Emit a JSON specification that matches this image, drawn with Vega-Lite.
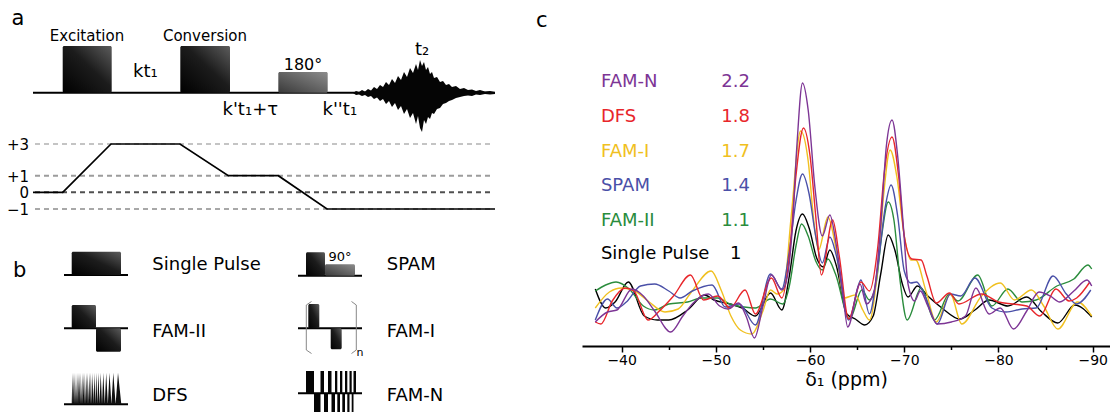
{
"$schema": "https://vega.github.io/schema/vega-lite/v6.json",
"padding": 0,
"spacing": 0,
"bounds": "flush",
"config": {"view": {"stroke": null}, "font": "DejaVu Sans"},
"resolve": {"scale": {"x": "independent", "y": "independent", "color": "independent"}},
"hconcat": [
{
"width": 582, "height": 412,
"encoding": {
  "x": {"field": "x", "type": "quantitative", "scale": {"domain": [0, 582], "nice": false, "zero": false}, "axis": null},
  "y": {"field": "y", "type": "quantitative", "scale": {"domain": [0, 412], "reverse": true, "nice": false, "zero": false}, "axis": null}
},
"layer": [
  {"data": {"values": [{"x":35,"x2":493,"y":144,"lv":"p3"},{"x":35,"x2":493,"y":175.7,"lv":"p1"},{"x":35,"x2":493,"y":192.3,"lv":"z"},{"x":35,"x2":493,"y":209,"lv":"m1"}]},
   "mark": {"type": "rule", "strokeDash": [5, 4], "strokeWidth": 2},
   "encoding": {"x2": {"field": "x2"}, "color": {"field": "lv", "type": "nominal", "scale": {"domain": ["p3","p1","z","m1"], "range": ["#c4c4c4","#9c9c9c","#505050","#a8a8a8"]}, "legend": null}}},
  {"data": {"values": [{"x":33,"y":192.3,"o":1},{"x":62.7,"y":192.3,"o":2},{"x":111,"y":144,"o":3},{"x":180,"y":144,"o":4},{"x":228.3,"y":175.7,"o":5},{"x":278.3,"y":175.7,"o":6},{"x":327,"y":209,"o":7},{"x":495,"y":209,"o":8}]},
   "mark": {"type": "line", "color": "black", "strokeWidth": 1.7},
   "encoding": {"order": {"field": "o", "type": "quantitative"}}},
  {"data": {"values": [{"x":33,"x2":495,"y":92.7},{"x":64,"x2":128,"y":275},{"x":298,"x2":362,"y":275.7},{"x":64,"x2":128,"y":328.3},{"x":298,"x2":362,"y":328.3},{"x":64,"x2":128,"y":404.3},{"x":298,"x2":362,"y":393.3}]},
   "mark": {"type": "rule", "color": "black", "strokeWidth": 2},
   "encoding": {"x2": {"field": "x2"}}},
  {"data": {"values": [{"x":62.7,"x2":111.7,"y":46,"y2":92.7},{"x":180.3,"x2":230,"y":46,"y2":92.7},{"x":71.7,"x2":121,"y":251.7,"y2":275},{"x":306,"x2":325,"y":252.3,"y2":275.7},{"x":71.7,"x2":96,"y":305,"y2":328.3},{"x":96,"x2":121,"y":328.3,"y2":351.7},{"x":308.3,"x2":319.3,"y":304,"y2":328.3},{"x":330.7,"x2":341.7,"y":328.3,"y2":349.3}]},
   "mark": {"type": "rect", "cornerRadius": 1.5, "color": {"gradient": "linear", "x1": 0, "y1": 1, "x2": 1, "y2": 0, "stops": [{"offset": 0, "color": "#000000"}, {"offset": 0.55, "color": "#1c1c1c"}, {"offset": 1, "color": "#5c5c5c"}]}},
   "encoding": {"x2": {"field": "x2"}, "y2": {"field": "y2"}}},
  {"data": {"values": [{"x":278.3,"x2":327.7,"y":72,"y2":92.7},{"x":325,"x2":355,"y":264.3,"y2":275.7}]},
   "mark": {"type": "rect", "cornerRadius": 1.5, "color": {"gradient": "linear", "x1": 0, "y1": 1, "x2": 1, "y2": 0, "stops": [{"offset": 0, "color": "#3a3a3a"}, {"offset": 1, "color": "#8c8c8c"}]}},
   "encoding": {"x2": {"field": "x2"}, "y2": {"field": "y2"}}},
  {"data": {"values": [{"x":306,"x2":314,"y":371,"y2":393.3},{"x":320.5,"x2":324,"y":371,"y2":393.3},{"x":328,"x2":331.5,"y":371,"y2":393.3},{"x":335,"x2":337.3,"y":371,"y2":393.3},{"x":340,"x2":342.3,"y":371,"y2":393.3},{"x":345,"x2":347.3,"y":371,"y2":393.3},{"x":349.5,"x2":351.7,"y":371,"y2":393.3},{"x":353.5,"x2":356,"y":371,"y2":393.3},{"x":314,"x2":320.5,"y":393.3,"y2":412},{"x":324,"x2":328,"y":393.3,"y2":412},{"x":331.5,"x2":335,"y":393.3,"y2":412},{"x":337.3,"x2":340,"y":393.3,"y2":412},{"x":342.3,"x2":345,"y":393.3,"y2":412},{"x":347.3,"x2":349.5,"y":393.3,"y2":412},{"x":351.7,"x2":353.5,"y":393.3,"y2":412}]},
   "mark": {"type": "rect", "color": "#050505"},
   "encoding": {"x2": {"field": "x2"}, "y2": {"field": "y2"}}},
  {"data": {"values": [{"x":353,"y":93,"y2":93},{"x":356,"y":91,"y2":95},{"x":359,"y":92,"y2":94.5},{"x":362,"y":90,"y2":96},{"x":365,"y":91.5,"y2":95},{"x":368,"y":89,"y2":97},{"x":371,"y":90.5,"y2":96},{"x":374,"y":87,"y2":99},{"x":377,"y":89,"y2":97.5},{"x":380,"y":85,"y2":101},{"x":383,"y":87,"y2":99},{"x":386,"y":82,"y2":104},{"x":389,"y":85,"y2":101},{"x":392,"y":79,"y2":107},{"x":395,"y":83,"y2":103},{"x":398,"y":76,"y2":110},{"x":401,"y":80,"y2":106},{"x":404,"y":72,"y2":114},{"x":407,"y":77,"y2":109},{"x":410,"y":68,"y2":118},{"x":413,"y":73,"y2":113},{"x":416,"y":64,"y2":124},{"x":418,"y":70,"y2":116},{"x":420,"y":60,"y2":128},{"x":422,"y":66,"y2":132},{"x":424,"y":62,"y2":120},{"x":426,"y":70,"y2":124},{"x":428,"y":67,"y2":117},{"x":430,"y":74,"y2":119},{"x":432,"y":72,"y2":113},{"x":434,"y":78,"y2":114},{"x":437,"y":77,"y2":109},{"x":440,"y":82,"y2":108},{"x":443,"y":81,"y2":104},{"x":446,"y":85,"y2":103},{"x":449,"y":84,"y2":101},{"x":452,"y":87,"y2":100},{"x":456,"y":86,"y2":98},{"x":460,"y":89,"y2":97},{"x":464,"y":88,"y2":96},{"x":468,"y":90,"y2":95.5},{"x":472,"y":89.5,"y2":96},{"x":476,"y":91,"y2":94.5},{"x":480,"y":90,"y2":95},{"x":485,"y":91.5,"y2":94},{"x":490,"y":91,"y2":94.5},{"x":495,"y":92,"y2":94}]},
   "mark": {"type": "area", "color": "#050505", "interpolate": "linear"},
   "encoding": {"y2": {"field": "y2"}}},
  {"data": {"values": [{"x":71.7,"y":404.3},{"x":72.4,"y":372.7},{"x":73,"y":404.3},{"x":73.6,"y":372.7},{"x":74.2,"y":404.3},{"x":74.8,"y":372.7},{"x":75.4,"y":404.3},{"x":76,"y":372.7},{"x":76.6,"y":404.3},{"x":77.2,"y":372.7},{"x":77.8,"y":404.3},{"x":78.4,"y":372.7},{"x":79,"y":404.3},{"x":79.6,"y":372.7},{"x":80.25,"y":404.3},{"x":80.9,"y":372.7},{"x":81.55,"y":404.3},{"x":82.2,"y":372.7},{"x":82.85,"y":404.3},{"x":83.5,"y":372.7},{"x":84.2,"y":404.3},{"x":84.9,"y":372.7},{"x":85.6,"y":404.3},{"x":86.3,"y":372.7},{"x":87.05,"y":404.3},{"x":87.8,"y":372.7},{"x":88.55,"y":404.3},{"x":89.3,"y":372.7},{"x":90.1,"y":404.3},{"x":90.9,"y":372.7},{"x":91.75,"y":404.3},{"x":92.6,"y":372.7},{"x":93.5,"y":404.3},{"x":94.4,"y":372.7},{"x":95.35,"y":404.3},{"x":96.3,"y":372.7},{"x":97.35,"y":404.3},{"x":98.4,"y":372.7},{"x":99.55,"y":404.3},{"x":100.7,"y":372.7},{"x":102,"y":404.3},{"x":103.3,"y":372.7},{"x":104.75,"y":404.3},{"x":106.2,"y":372.7},{"x":107.85,"y":404.3},{"x":109.5,"y":372.7},{"x":111.4,"y":404.3},{"x":113.3,"y":372.7},{"x":115.6,"y":404.3},{"x":118,"y":372.7},{"x":121.3,"y":404.3}]},
   "mark": {"type": "area", "color": "#111111", "interpolate": "linear"},
   "encoding": {"y2": {"datum": 404.3}}},
  {"data": {"values": [{"x":311.5,"y":301.5,"b":"l","o":1},{"x":306.3,"y":305,"b":"l","o":2},{"x":306.3,"y":350,"b":"l","o":3},{"x":311.5,"y":353.5,"b":"l","o":4},{"x":351.5,"y":301.5,"b":"r","o":1},{"x":356.3,"y":305,"b":"r","o":2},{"x":356.3,"y":350,"b":"r","o":3},{"x":351.5,"y":353.5,"b":"r","o":4}]},
   "mark": {"type": "line", "color": "#888888", "strokeWidth": 1},
   "encoding": {"detail": {"field": "b"}, "order": {"field": "o", "type": "quantitative"}}},
  {"data": {"values": [{"x":11.5,"y":25,"t":"a"},{"x":13,"y":277,"t":"b"},{"x":536,"y":27,"t":"c"}]},
   "mark": {"type": "text", "align": "left", "baseline": "alphabetic", "fontSize": 21, "font": "DejaVu Sans", "color": "black"},
   "encoding": {"text": {"field": "t"}}},
  {"data": {"values": [{"x":87,"y":40.5,"t":"Excitation"},{"x":205,"y":40.5,"t":"Conversion"}]},
   "mark": {"type": "text", "align": "center", "baseline": "alphabetic", "fontSize": 15, "font": "DejaVu Sans", "color": "black"},
   "encoding": {"text": {"field": "t"}}},
  {"data": {"values": [{"x":133,"y":77,"t":"kt₁"},{"x":222.5,"y":115,"t":"k't₁+τ"},{"x":322.5,"y":115,"t":"k''t₁"},{"x":415,"y":55,"t":"t₂"}]},
   "mark": {"type": "text", "align": "left", "baseline": "alphabetic", "fontSize": 18, "font": "DejaVu Sans", "color": "black"},
   "encoding": {"text": {"field": "t"}}},
  {"data": {"values": [{"x":303,"y":70,"t":"180°"}]},
   "mark": {"type": "text", "align": "center", "baseline": "alphabetic", "fontSize": 16, "font": "DejaVu Sans", "color": "black"},
   "encoding": {"text": {"field": "t"}}},
  {"data": {"values": [{"x":29,"y":149.5,"t":"+3"},{"x":29,"y":181.5,"t":"+1"},{"x":29,"y":198,"t":"0"},{"x":29,"y":214.5,"t":"−1"}]},
   "mark": {"type": "text", "align": "right", "baseline": "alphabetic", "fontSize": 15, "font": "DejaVu Sans", "color": "black"},
   "encoding": {"text": {"field": "t"}}},
  {"data": {"values": [{"x":152.3,"y":270,"t":"Single Pulse"},{"x":386.7,"y":270,"t":"SPAM"},{"x":152.3,"y":336.5,"t":"FAM-II"},{"x":386.7,"y":336.5,"t":"FAM-I"},{"x":152.3,"y":401,"t":"DFS"},{"x":386.7,"y":401,"t":"FAM-N"}]},
   "mark": {"type": "text", "align": "left", "baseline": "alphabetic", "fontSize": 18, "font": "DejaVu Sans", "color": "black"},
   "encoding": {"text": {"field": "t"}}},
  {"data": {"values": [{"x":340,"y":260.5,"t":"90°"}]},
   "mark": {"type": "text", "align": "center", "baseline": "alphabetic", "fontSize": 13, "font": "DejaVu Sans", "color": "black"},
   "encoding": {"text": {"field": "t"}}},
  {"data": {"values": [{"x":356.5,"y":356,"t":"n"}]},
   "mark": {"type": "text", "align": "left", "baseline": "alphabetic", "fontSize": 11, "font": "DejaVu Sans", "color": "black"},
   "encoding": {"text": {"field": "t"}}}
]
},
{
"width": 528, "height": 346,
"layer": [
  {"data": {"values": [
{"s":"Single Pulse","x":-37.2,"y":57},{"s":"Single Pulse","x":-38.3,"y":38},{"s":"Single Pulse","x":-39.3,"y":44},{"s":"Single Pulse","x":-40.7,"y":64},{"s":"Single Pulse","x":-42.4,"y":30},{"s":"Single Pulse","x":-43.8,"y":26},{"s":"Single Pulse","x":-45,"y":26},{"s":"Single Pulse","x":-47,"y":36},{"s":"Single Pulse","x":-48.8,"y":51},{"s":"Single Pulse","x":-49.8,"y":46},{"s":"Single Pulse","x":-51.5,"y":42},{"s":"Single Pulse","x":-52.8,"y":38},{"s":"Single Pulse","x":-54.2,"y":30},{"s":"Single Pulse","x":-55.8,"y":53},{"s":"Single Pulse","x":-57,"y":36},{"s":"Single Pulse","x":-57.8,"y":70},{"s":"Single Pulse","x":-58.5,"y":115},{"s":"Single Pulse","x":-59.2,"y":132},{"s":"Single Pulse","x":-59.9,"y":118},{"s":"Single Pulse","x":-60.7,"y":88},{"s":"Single Pulse","x":-61.4,"y":79},{"s":"Single Pulse","x":-62.1,"y":96},{"s":"Single Pulse","x":-62.8,"y":80},{"s":"Single Pulse","x":-63.9,"y":32},{"s":"Single Pulse","x":-64.8,"y":27},{"s":"Single Pulse","x":-65.8,"y":21},{"s":"Single Pulse","x":-66.7,"y":30},{"s":"Single Pulse","x":-67.5,"y":72},{"s":"Single Pulse","x":-68.3,"y":111},{"s":"Single Pulse","x":-69,"y":96},{"s":"Single Pulse","x":-69.8,"y":62},{"s":"Single Pulse","x":-70.4,"y":49},{"s":"Single Pulse","x":-71.4,"y":60},{"s":"Single Pulse","x":-72.5,"y":50},{"s":"Single Pulse","x":-74,"y":38},{"s":"Single Pulse","x":-75.9,"y":27},{"s":"Single Pulse","x":-77.5,"y":36},{"s":"Single Pulse","x":-79,"y":46},{"s":"Single Pulse","x":-81,"y":40},{"s":"Single Pulse","x":-83,"y":49},{"s":"Single Pulse","x":-84.6,"y":34},{"s":"Single Pulse","x":-86.3,"y":23},{"s":"Single Pulse","x":-88.1,"y":41},{"s":"Single Pulse","x":-89.9,"y":29},
{"s":"FAM-II","x":-37.2,"y":55},{"s":"FAM-II","x":-38.3,"y":61},{"s":"FAM-II","x":-39.4,"y":64},{"s":"FAM-II","x":-40.8,"y":57},{"s":"FAM-II","x":-42.3,"y":40},{"s":"FAM-II","x":-43.5,"y":36},{"s":"FAM-II","x":-45,"y":42},{"s":"FAM-II","x":-47,"y":44},{"s":"FAM-II","x":-48.5,"y":48},{"s":"FAM-II","x":-50.2,"y":48},{"s":"FAM-II","x":-51.5,"y":42},{"s":"FAM-II","x":-53,"y":39},{"s":"FAM-II","x":-54.2,"y":38},{"s":"FAM-II","x":-55.8,"y":47},{"s":"FAM-II","x":-57.1,"y":42},{"s":"FAM-II","x":-57.8,"y":60},{"s":"FAM-II","x":-58.5,"y":100},{"s":"FAM-II","x":-59.1,"y":122},{"s":"FAM-II","x":-59.8,"y":110},{"s":"FAM-II","x":-60.6,"y":85},{"s":"FAM-II","x":-61.3,"y":76},{"s":"FAM-II","x":-61.9,"y":87},{"s":"FAM-II","x":-62.7,"y":72},{"s":"FAM-II","x":-64.2,"y":27},{"s":"FAM-II","x":-65.5,"y":56},{"s":"FAM-II","x":-66.3,"y":46},{"s":"FAM-II","x":-67,"y":62},{"s":"FAM-II","x":-67.6,"y":110},{"s":"FAM-II","x":-68.3,"y":144},{"s":"FAM-II","x":-68.9,"y":126},{"s":"FAM-II","x":-69.6,"y":62},{"s":"FAM-II","x":-70.3,"y":26},{"s":"FAM-II","x":-71.8,"y":58},{"s":"FAM-II","x":-73.2,"y":26},{"s":"FAM-II","x":-74.8,"y":52},{"s":"FAM-II","x":-75.7,"y":45},{"s":"FAM-II","x":-77.8,"y":71},{"s":"FAM-II","x":-79.3,"y":40},{"s":"FAM-II","x":-81,"y":57},{"s":"FAM-II","x":-82.5,"y":44},{"s":"FAM-II","x":-84,"y":46},{"s":"FAM-II","x":-86.2,"y":60},{"s":"FAM-II","x":-88,"y":67},{"s":"FAM-II","x":-89.5,"y":81},{"s":"FAM-II","x":-89.9,"y":77},
{"s":"FAM-I","x":-37.2,"y":38},{"s":"FAM-I","x":-38.7,"y":54},{"s":"FAM-I","x":-40,"y":58},{"s":"FAM-I","x":-41.4,"y":55},{"s":"FAM-I","x":-42.8,"y":45},{"s":"FAM-I","x":-44.6,"y":34},{"s":"FAM-I","x":-46,"y":37},{"s":"FAM-I","x":-47.4,"y":54},{"s":"FAM-I","x":-49.5,"y":75},{"s":"FAM-I","x":-50.6,"y":55},{"s":"FAM-I","x":-51.6,"y":30},{"s":"FAM-I","x":-52.6,"y":16},{"s":"FAM-I","x":-53.8,"y":12},{"s":"FAM-I","x":-55,"y":35},{"s":"FAM-I","x":-55.8,"y":56},{"s":"FAM-I","x":-56.5,"y":52},{"s":"FAM-I","x":-57.2,"y":56},{"s":"FAM-I","x":-58,"y":130},{"s":"FAM-I","x":-59,"y":215},{"s":"FAM-I","x":-59.8,"y":185},{"s":"FAM-I","x":-60.4,"y":125},{"s":"FAM-I","x":-60.9,"y":96},{"s":"FAM-I","x":-61.9,"y":129},{"s":"FAM-I","x":-62.7,"y":100},{"s":"FAM-I","x":-63.6,"y":48},{"s":"FAM-I","x":-64.8,"y":51},{"s":"FAM-I","x":-65.6,"y":36},{"s":"FAM-I","x":-66.3,"y":26},{"s":"FAM-I","x":-67.2,"y":80},{"s":"FAM-I","x":-67.8,"y":150},{"s":"FAM-I","x":-68.5,"y":196},{"s":"FAM-I","x":-69.2,"y":170},{"s":"FAM-I","x":-70,"y":110},{"s":"FAM-I","x":-70.7,"y":86},{"s":"FAM-I","x":-71.2,"y":86},{"s":"FAM-I","x":-72.3,"y":55},{"s":"FAM-I","x":-73.4,"y":24},{"s":"FAM-I","x":-74.9,"y":52},{"s":"FAM-I","x":-76.1,"y":22},{"s":"FAM-I","x":-78.2,"y":50},{"s":"FAM-I","x":-80.2,"y":63},{"s":"FAM-I","x":-81.7,"y":46},{"s":"FAM-I","x":-83.5,"y":56},{"s":"FAM-I","x":-84.8,"y":40},{"s":"FAM-I","x":-86.3,"y":17},{"s":"FAM-I","x":-88.4,"y":44},{"s":"FAM-I","x":-89.9,"y":30},
{"s":"SPAM","x":-37.2,"y":26},{"s":"SPAM","x":-38.5,"y":47},{"s":"SPAM","x":-39.5,"y":38},{"s":"SPAM","x":-40.5,"y":44},{"s":"SPAM","x":-42,"y":60},{"s":"SPAM","x":-43.5,"y":62},{"s":"SPAM","x":-45,"y":55},{"s":"SPAM","x":-46.2,"y":48},{"s":"SPAM","x":-47.5,"y":55},{"s":"SPAM","x":-49.6,"y":61},{"s":"SPAM","x":-51,"y":39},{"s":"SPAM","x":-52.5,"y":42},{"s":"SPAM","x":-54.2,"y":21},{"s":"SPAM","x":-55.8,"y":72},{"s":"SPAM","x":-57,"y":57},{"s":"SPAM","x":-57.8,"y":95},{"s":"SPAM","x":-58.5,"y":145},{"s":"SPAM","x":-59.2,"y":172},{"s":"SPAM","x":-59.9,"y":152},{"s":"SPAM","x":-60.6,"y":110},{"s":"SPAM","x":-61.3,"y":83},{"s":"SPAM","x":-62.1,"y":109},{"s":"SPAM","x":-62.8,"y":90},{"s":"SPAM","x":-64.1,"y":26},{"s":"SPAM","x":-65.4,"y":66},{"s":"SPAM","x":-66.3,"y":32},{"s":"SPAM","x":-67.2,"y":80},{"s":"SPAM","x":-68,"y":140},{"s":"SPAM","x":-68.6,"y":161},{"s":"SPAM","x":-69.3,"y":130},{"s":"SPAM","x":-70,"y":75},{"s":"SPAM","x":-70.7,"y":63},{"s":"SPAM","x":-71.3,"y":64},{"s":"SPAM","x":-72.2,"y":50},{"s":"SPAM","x":-73.5,"y":22},{"s":"SPAM","x":-74.9,"y":52},{"s":"SPAM","x":-76,"y":50},{"s":"SPAM","x":-77.5,"y":68},{"s":"SPAM","x":-79.3,"y":38},{"s":"SPAM","x":-80.8,"y":34},{"s":"SPAM","x":-82.5,"y":37},{"s":"SPAM","x":-84,"y":38},{"s":"SPAM","x":-85.8,"y":70},{"s":"SPAM","x":-87.2,"y":52},{"s":"SPAM","x":-88.3,"y":42},{"s":"SPAM","x":-89.8,"y":56},
{"s":"DFS","x":-37.2,"y":24},{"s":"DFS","x":-37.8,"y":22},{"s":"DFS","x":-39,"y":45},{"s":"DFS","x":-40.4,"y":58},{"s":"DFS","x":-41.3,"y":55},{"s":"DFS","x":-42.8,"y":26},{"s":"DFS","x":-44,"y":35},{"s":"DFS","x":-45.5,"y":50},{"s":"DFS","x":-47.3,"y":71},{"s":"DFS","x":-48.7,"y":46},{"s":"DFS","x":-50.2,"y":50},{"s":"DFS","x":-51.5,"y":38},{"s":"DFS","x":-53.1,"y":56},{"s":"DFS","x":-54.2,"y":32},{"s":"DFS","x":-55.9,"y":68},{"s":"DFS","x":-57,"y":48},{"s":"DFS","x":-57.8,"y":90},{"s":"DFS","x":-58.5,"y":170},{"s":"DFS","x":-59.3,"y":218},{"s":"DFS","x":-60,"y":190},{"s":"DFS","x":-60.6,"y":130},{"s":"DFS","x":-61.2,"y":71},{"s":"DFS","x":-62.4,"y":126},{"s":"DFS","x":-63.1,"y":90},{"s":"DFS","x":-64.1,"y":27},{"s":"DFS","x":-65.4,"y":64},{"s":"DFS","x":-66.3,"y":55},{"s":"DFS","x":-67.2,"y":100},{"s":"DFS","x":-67.9,"y":175},{"s":"DFS","x":-68.7,"y":209},{"s":"DFS","x":-69.4,"y":170},{"s":"DFS","x":-70,"y":110},{"s":"DFS","x":-70.8,"y":87},{"s":"DFS","x":-71.8,"y":86},{"s":"DFS","x":-72.4,"y":70},{"s":"DFS","x":-73.4,"y":43},{"s":"DFS","x":-74.8,"y":53},{"s":"DFS","x":-75.8,"y":42},{"s":"DFS","x":-78.2,"y":52},{"s":"DFS","x":-80,"y":44},{"s":"DFS","x":-81.5,"y":42},{"s":"DFS","x":-83,"y":40},{"s":"DFS","x":-84.4,"y":30},{"s":"DFS","x":-86.1,"y":57},{"s":"DFS","x":-87.5,"y":45},{"s":"DFS","x":-88.3,"y":48},{"s":"DFS","x":-89.7,"y":64},
{"s":"FAM-N","x":-37.2,"y":24},{"s":"FAM-N","x":-38.5,"y":34},{"s":"FAM-N","x":-39.5,"y":36},{"s":"FAM-N","x":-41.1,"y":57},{"s":"FAM-N","x":-42.3,"y":50},{"s":"FAM-N","x":-43.5,"y":35},{"s":"FAM-N","x":-45.2,"y":14},{"s":"FAM-N","x":-46.5,"y":30},{"s":"FAM-N","x":-47.6,"y":43},{"s":"FAM-N","x":-49.2,"y":52},{"s":"FAM-N","x":-50.4,"y":40},{"s":"FAM-N","x":-51.3,"y":37},{"s":"FAM-N","x":-52.4,"y":43},{"s":"FAM-N","x":-53.2,"y":30},{"s":"FAM-N","x":-54.1,"y":8},{"s":"FAM-N","x":-55,"y":40},{"s":"FAM-N","x":-55.9,"y":71},{"s":"FAM-N","x":-57,"y":56},{"s":"FAM-N","x":-57.6,"y":70},{"s":"FAM-N","x":-58.1,"y":116},{"s":"FAM-N","x":-58.6,"y":200},{"s":"FAM-N","x":-59.2,"y":263},{"s":"FAM-N","x":-59.8,"y":236},{"s":"FAM-N","x":-60.5,"y":160},{"s":"FAM-N","x":-61.3,"y":110},{"s":"FAM-N","x":-62.1,"y":131},{"s":"FAM-N","x":-62.8,"y":100},{"s":"FAM-N","x":-63.4,"y":60},{"s":"FAM-N","x":-64,"y":19},{"s":"FAM-N","x":-65.3,"y":62},{"s":"FAM-N","x":-66,"y":42},{"s":"FAM-N","x":-66.8,"y":55},{"s":"FAM-N","x":-67.5,"y":120},{"s":"FAM-N","x":-68.1,"y":200},{"s":"FAM-N","x":-68.7,"y":226},{"s":"FAM-N","x":-69.3,"y":190},{"s":"FAM-N","x":-69.9,"y":120},{"s":"FAM-N","x":-70.4,"y":62},{"s":"FAM-N","x":-71.1,"y":45},{"s":"FAM-N","x":-71.7,"y":55},{"s":"FAM-N","x":-72.5,"y":40},{"s":"FAM-N","x":-73.5,"y":22},{"s":"FAM-N","x":-75,"y":24},{"s":"FAM-N","x":-76.5,"y":30},{"s":"FAM-N","x":-77.6,"y":58},{"s":"FAM-N","x":-79,"y":32},{"s":"FAM-N","x":-80.2,"y":38},{"s":"FAM-N","x":-81.6,"y":17},{"s":"FAM-N","x":-83,"y":35},{"s":"FAM-N","x":-84.3,"y":54},{"s":"FAM-N","x":-85.5,"y":50},{"s":"FAM-N","x":-86.5,"y":44},{"s":"FAM-N","x":-88,"y":55},{"s":"FAM-N","x":-89.4,"y":66},{"s":"FAM-N","x":-89.9,"y":60}
  ]},
   "mark": {"type": "line", "strokeWidth": 1.4, "interpolate": "monotone"},
   "encoding": {
     "x": {"field": "x", "type": "quantitative", "scale": {"domain": [-35.79, -91.84], "nice": false, "zero": false},
       "axis": {"title": "δ₁ (ppm)", "values": [-40,-45,-50,-55,-60,-65,-70,-75,-80,-85,-90], "labelExpr": "datum.value % 10 === 0 ? datum.label : ''", "tickSize": {"condition": {"test": "datum.value % 10 === 0", "value": 6}, "value": 3.5}, "grid": false, "domainColor": "black", "domainWidth": 2, "tickColor": "black", "tickWidth": 1.5, "labelColor": "black", "labelFont": "DejaVu Sans", "labelFontSize": 14, "labelPadding": 1, "labelFlush": false, "titleFont": "DejaVu Sans", "titleFontSize": 19, "titleFontWeight": "normal", "titleColor": "black", "titlePadding": 3}},
     "y": {"field": "y", "type": "quantitative", "scale": {"domain": [0, 346], "nice": false, "zero": false}, "axis": null},
     "order": {"field": "x", "type": "quantitative", "sort": "descending"},
     "color": {"field": "s", "type": "nominal", "scale": {"domain": ["FAM-N","DFS","FAM-I","SPAM","FAM-II","Single Pulse"], "range": ["#7d3595","#e8262b","#f0c020","#4a50a8","#2a8c3c","#000000"]}, "legend": null}
   }},
  {"data": {"values": [{"s":"FAM-N","r":"2.2","y":264},{"s":"DFS","r":"1.8","y":229},{"s":"FAM-I","r":"1.7","y":194},{"s":"SPAM","r":"1.4","y":160},{"s":"FAM-II","r":"1.1","y":125},{"s":"Single Pulse","r":"1","y":92}]},
   "mark": {"type": "text", "align": "left", "baseline": "middle", "fontSize": 18, "font": "DejaVu Sans"},
   "encoding": {"x": {"datum": -37.8, "type": "quantitative"}, "y": {"field": "y", "type": "quantitative"}, "text": {"field": "s"}, "color": {"field": "s", "type": "nominal"}}},
  {"data": {"values": [{"s":"FAM-N","r":"2.2","y":264},{"s":"DFS","r":"1.8","y":229},{"s":"FAM-I","r":"1.7","y":194},{"s":"SPAM","r":"1.4","y":160},{"s":"FAM-II","r":"1.1","y":125},{"s":"Single Pulse","r":"1","y":92}]},
   "mark": {"type": "text", "align": "center", "baseline": "middle", "fontSize": 18, "font": "DejaVu Sans"},
   "encoding": {"x": {"datum": -52.1, "type": "quantitative"}, "y": {"field": "y", "type": "quantitative"}, "text": {"field": "r"}, "color": {"field": "s", "type": "nominal"}}}
]
}
]
}
